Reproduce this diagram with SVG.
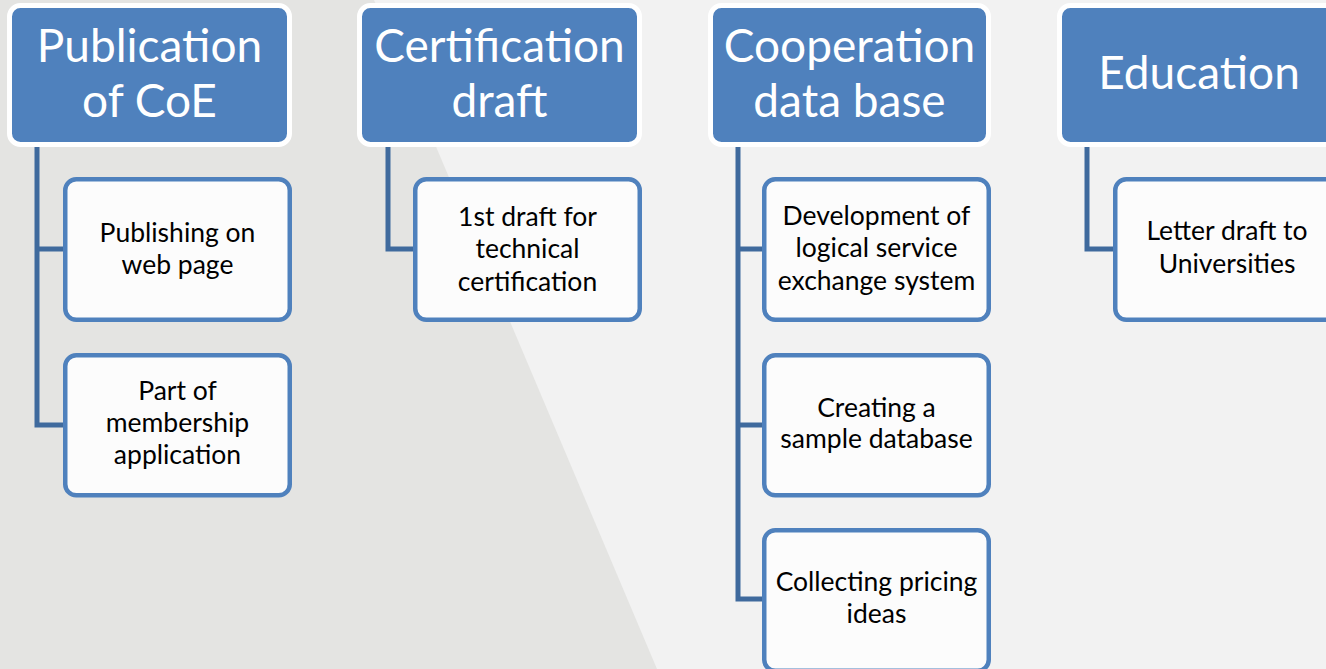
<svg xmlns="http://www.w3.org/2000/svg" width="1326" height="669" viewBox="0 0 1326 669">
<style>
.hdr{fill:#4f81bd;stroke:#ffffff;stroke-width:5}
.child{fill:#fcfcfc;stroke:#4f81bd;stroke-width:4.5}
.conn{fill:none;stroke:#3f6a9d;stroke-width:5;stroke-linejoin:miter}
.ht{font-family:Lato,"Open Sans",sans-serif;font-size:46px;fill:#ffffff;text-anchor:middle}
.ct{font-family:Lato,"Open Sans",sans-serif;font-size:26.5px;fill:#000000;text-anchor:middle}
</style>
<rect x="0" y="0" width="1326" height="669" fill="#f2f2f2"/>
<polygon points="0,0 374,0 657,669 0,669" fill="#e4e4e2"/>
<g id="connectors">
<path class="conn" d="M37,144 V425 H66 M37,249 H66"/>
<path class="conn" d="M388,144 V249 H415"/>
<path class="conn" d="M738,144 V599 H765 M738,249 H765 M738,425 H765"/>
<path class="conn" d="M1087,144 V249 H1115"/>
</g>
<g id="n-publication">
<rect class="hdr" x="9.5" y="5.5" width="280" height="139" rx="11"/>
<text class="ht" x="149.5" y="62">Publication</text>
<text class="ht" x="149.5" y="117">of CoE</text>
</g>
<g id="n-publishing">
<rect class="child" x="65.25" y="179.25" width="224.5" height="140.5" rx="11"/>
<text class="ct" x="177.5" y="242">Publishing on</text>
<text class="ct" x="177.5" y="274">web page</text>
</g>
<g id="n-part">
<rect class="child" x="65.25" y="355.25" width="224.5" height="140" rx="11"/>
<text class="ct" x="177.5" y="400">Part of</text>
<text class="ct" x="177.5" y="432">membership</text>
<text class="ct" x="177.5" y="464">application</text>
</g>
<g id="n-certification">
<rect class="hdr" x="359.5" y="5.5" width="280" height="139" rx="11"/>
<text class="ht" x="499.5" y="62">Certification</text>
<text class="ht" x="499.5" y="117">draft</text>
</g>
<g id="n-1stdraft">
<rect class="child" x="415.25" y="179.25" width="224.5" height="140.5" rx="11"/>
<text class="ct" x="527.5" y="226">1st draft for</text>
<text class="ct" x="527.5" y="258">technical</text>
<text class="ct" x="527.5" y="291">certification</text>
</g>
<g id="n-cooperation">
<rect class="hdr" x="710.5" y="5.5" width="278" height="139" rx="11"/>
<text class="ht" x="849.5" y="62">Cooperation</text>
<text class="ht" x="849.5" y="117">data base</text>
</g>
<g id="n-development">
<rect class="child" x="764.25" y="179.25" width="224.5" height="140.5" rx="11"/>
<text class="ct" x="876.5" y="225">Development of</text>
<text class="ct" x="876.5" y="257">logical service</text>
<text class="ct" x="876.5" y="290">exchange system</text>
</g>
<g id="n-creating">
<rect class="child" x="764.25" y="355.25" width="224.5" height="140" rx="11"/>
<text class="ct" x="876.5" y="417">Creating a</text>
<text class="ct" x="876.5" y="448">sample database</text>
</g>
<g id="n-collecting">
<rect class="child" x="764.25" y="530.25" width="224.5" height="140.5" rx="11"/>
<text class="ct" x="876.5" y="591">Collecting pricing</text>
<text class="ct" x="876.5" y="623">ideas</text>
</g>
<g id="n-education">
<rect class="hdr" x="1059.5" y="5.5" width="280" height="139" rx="11"/>
<text class="ht" x="1199" y="89">Education</text>
</g>
<g id="n-letter">
<rect class="child" x="1115.25" y="179.25" width="224.5" height="140.5" rx="11"/>
<text class="ct" x="1227" y="240">Letter draft to</text>
<text class="ct" x="1227" y="273">Universities</text>
</g>
</svg>
